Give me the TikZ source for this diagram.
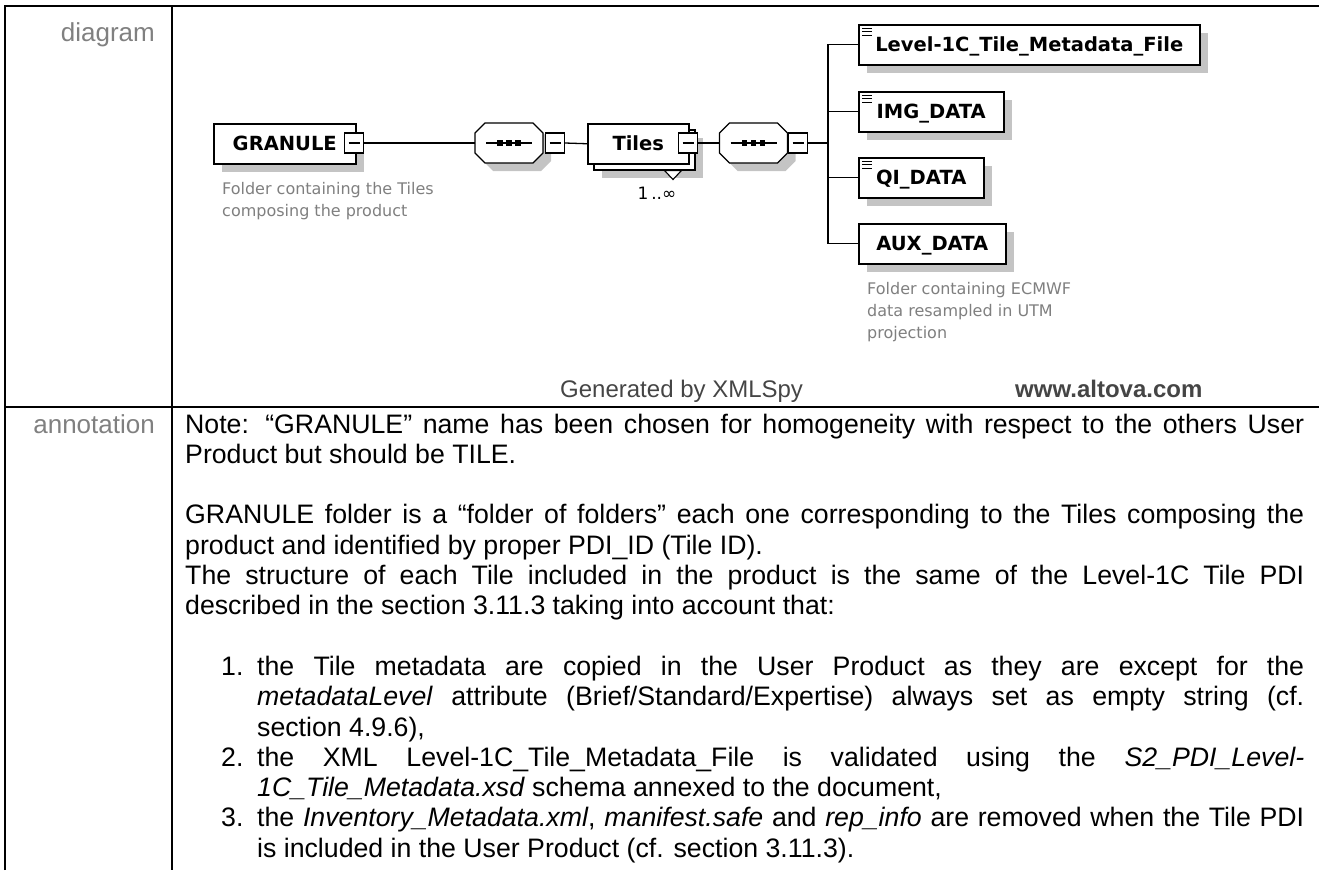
\documentclass[tikz,border=0pt]{standalone}
\usepackage{fontspec}
\setmainfont{Liberation Sans}
\newfontfamily\bodyfont{Liberation Sans}
\newfontfamily\xsfont{DejaVu Sans}
\usetikzlibrary{shadows}
\definecolor{shadowgray}{HTML}{C4C4C4}
\definecolor{labelgray}{HTML}{808080}
\definecolor{descgray}{HTML}{7F7F7F}
\definecolor{footgray}{HTML}{454545}
\newcommand\justline[1]{\makebox[1119pt][s]{#1}}
\newcommand\justitem[1]{\makebox[1047pt][s]{#1}}
% octagon (sequence compositor) centred at (#1,#2)
\newcommand\octshape[3]{%
  \path[#3] (#1-24,#2-20) -- (#1+24,#2-20) -- (#1+34,#2-10) -- (#1+34,#2+10)
    -- (#1+24,#2+20) -- (#1-24,#2+20) -- (#1-34,#2+10) -- (#1-34,#2-10) -- cycle;}
\begin{document}
\begin{tikzpicture}[x=1pt,y=-1pt,
  frameline/.style={line width=2pt},
  conn/.style={line width=1.3pt},
  elemplain/.style={draw, line width=1.5pt, fill=white, minimum height=40pt,
    inner sep=0pt, text height=14.2pt, text depth=0pt,
    font=\xsfont\bfseries\fontsize{19.5}{22}\selectfont, anchor=north west},
  elem/.style={elemplain, drop shadow={shadow xshift=8pt, shadow yshift=-8pt,
    fill=shadowgray, opacity=1, draw=none}},
  minus/.style={draw, fill=white, line width=1.2pt, minimum width=19pt,
    minimum height=20pt, inner sep=0pt,
    path picture={\draw[line width=1.2pt] ([xshift=4pt]path picture bounding box.west)
      -- ([xshift=-4pt]path picture bounding box.east);}},
  compo/.style={minimum width=68pt, minimum height=40pt, inner sep=0pt},
  desc/.style={font=\xsfont\fontsize{16}{20}\selectfont, text=descgray,
    anchor=base west, inner sep=0pt},
  lab/.style={font=\fontsize{26}{30}\selectfont, text=labelgray,
    anchor=base east, inner sep=0pt},
  foot/.style={font=\fontsize{24}{28}\selectfont, text=footgray,
    anchor=base west, inner sep=0pt},
  body/.style={font=\bodyfont\fontsize{26.7}{30}\selectfont, inner sep=0pt,
    anchor=base west}
]
\useasboundingbox (0,0) rectangle (1319,870);

% table frame
\draw[frameline] (5,870) -- (5,6) -- (1319,6);
\draw[frameline] (172,6) -- (172,870);
\draw[frameline] (5,407) -- (1319,407);

% row labels
\node[lab] (diag) at (155,41) {diagram};
\node[lab] (annot) at (155,433) {annotation};

% ---------- diagram ----------
% GRANULE
\node[elem, minimum width=142pt] (gran) at (213,123) {GRANULE\hspace{13pt}};
\node[minus] (granm) at (354,143) {};
\node[desc] (gd1) at (222,194) {Folder containing the Tiles};
\node[desc] (gd2) at (222,216) {composing the product};

% sequence compositor 1
\octshape{517}{151}{fill=shadowgray}
\octshape{509}{143}{draw, fill=white, line width=1.3pt}
\node[compo] (s1) at (509,143) {};
\draw[conn] ([xshift=-23pt]s1.center) -- ([xshift=23pt]s1.center);
\foreach \dx in {-9,0,9}
  \fill ([xshift=\dx pt]s1.center) +(-2.6,-2.6) rectangle +(2.6,2.6);
\node[minus] (s1m) at (555,143) {};

% Tiles (repeating element)
\node[elem, minimum width=101pt] (tb) at (593,129) {};
\node[elemplain, minimum width=101pt] (tf) at (587,123) {Tiles\hspace{17pt}};
\draw[line width=1.1pt, fill=white] ([xshift=-31pt]tb.south east) -- ([xshift=-14pt]tb.south east)
  -- ([shift={(-22.5pt,-9pt)}]tb.south east) -- cycle;
\node[minus] (tm) at (688,143) {};
\node[font=\xsfont\fontsize{17}{20}\selectfont, inner sep=0pt] (mult) at (657,193) {1\,..∞};

% sequence compositor 2
\octshape{761.5}{151}{fill=shadowgray}
\octshape{753.5}{143}{draw, fill=white, line width=1.3pt}
\node[compo] (s2) at (753.5,143) {};
\draw[conn] ([xshift=-23pt]s2.center) -- ([xshift=23pt]s2.center);
\foreach \dx in {-9,0,9}
  \fill ([xshift=\dx pt]s2.center) +(-2.6,-2.6) rectangle +(2.6,2.6);
\node[minus] (s2m) at (798,143) {};

% children
\node[elem, minimum width=341pt] (c1) at (858,24) {Level-1C\_Tile\_Metadata\_File};
\node[elem, minimum width=145pt] (c2) at (858,91) {IMG\_DATA};
\node[elem, minimum width=125pt] (c3) at (858,157) {QI\_DATA};
\node[elem, minimum width=147pt] (c4) at (858,223) {AUX\_DATA};
\foreach \c in {c1,c2,c3}
  \foreach \dy in {4,7.5,11}
    \draw[line width=1pt] ([shift={(4pt,-\dy pt)}]\c.north west) -- ++(10,0);
\node[desc] (ad1) at (867,294) {Folder containing ECMWF};
\node[desc] (ad2) at (867,316) {data resampled in UTM};
\node[desc] (ad3) at (867,338) {projection};

% connectors
\coordinate (spine) at (828,143);
\draw[conn] (granm.east) -- (s1.west);
\draw[conn] (s1m.east) -- (tf.west);
\draw[conn] (tm.east) -- (s2.west);
\draw[conn] (s2m.east) -- (spine);
\draw[conn] (c1.west) -- (c1.west -| spine) -- (c4.west -| spine) -- (c4.west);
\draw[conn] (c2.west) -- (c2.west -| spine);
\draw[conn] (c3.west) -- (c3.west -| spine);

% footer
\node[foot] (gen) at (560,397) {Generated by XMLSpy};
\node[foot, font=\bfseries\fontsize{24}{28}\selectfont] (www) at (1015,397) {www.altova.com};

% ---------- annotation ----------
\node[body] (n1) at (185,433) {\justline{Note: “GRANULE” name has been chosen for homogeneity with respect to the others User}};
\node[body] (n2) at (185,463.3) {Product but should be TILE.};
\node[body] (n3) at (185,523.9) {\justline{GRANULE folder is a “folder of folders” each one corresponding to the Tiles composing the}};
\node[body] (n4) at (185,554.2) {product and identified by proper PDI\_ID (Tile ID).};
\node[body] (n5) at (185,584.5) {\justline{The structure of each Tile included in the product is the same of the Level-1C Tile PDI}};
\node[body] (n6) at (185,614.8) {described in the section 3.11.3 taking into account that:};
\node[body] (i1) at (221,675.4) {1.};
\node[body] (n7) at (257,675.4) {\justitem{the Tile metadata are copied in the User Product as they are except for the}};
\node[body] (n8) at (257,705.7) {\justitem{\textit{metadataLevel} attribute (Brief/Standard/Expertise) always set as empty string (cf.}};
\node[body] (n9) at (257,736) {section 4.9.6),};
\node[body] (i2) at (221,766.3) {2.};
\node[body] (n10) at (257,766.3) {\justitem{the XML Level-1C\_Tile\_Metadata\_File is validated using the \textit{S2\_PDI\_Level-}}};
\node[body] (n11) at (257,796.6) {\textit{1C\_Tile\_Metadata.xsd} schema annexed to the document,};
\node[body] (i3) at (221,826.9) {3.};
\node[body] (n12) at (257,826.9) {\justitem{the \textit{Inventory\_Metadata.xml}, \textit{manifest.safe} and \textit{rep\_info} are removed when the Tile PDI}};
\node[body] (n13) at (257,857.2) {is included in the User Product (cf. section 3.11.3).};
\end{tikzpicture}
\end{document}
